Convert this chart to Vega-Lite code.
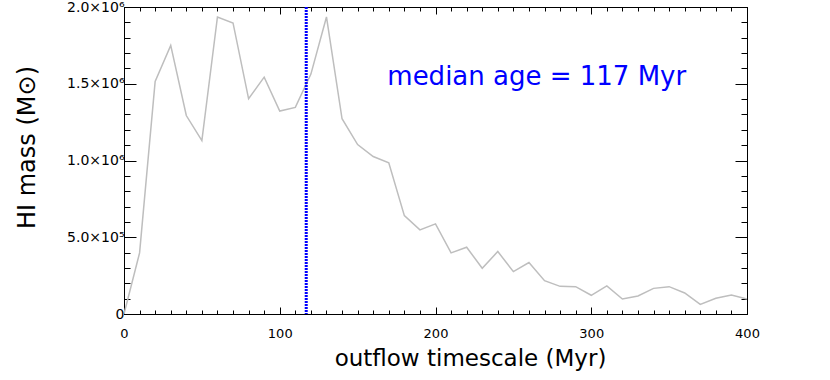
{
  "$schema": "https://vega.github.io/schema/vega-lite/v6.json",
  "autosize": "none",
  "width": 623,
  "height": 307,
  "padding": {"left": 124, "top": 7, "right": 83, "bottom": 66},
  "background": "white",
  "config": {
    "view": {"stroke": "black", "strokeWidth": 1},
    "font": "DejaVu Sans",
    "axis": {
      "domainColor": "black",
      "tickColor": "black",
      "labelColor": "black",
      "titleColor": "black",
      "grid": false,
      "labelFont": "DejaVu Sans",
      "titleFont": "DejaVu Sans",
      "titleFontWeight": "normal",
      "labelFontSize": 14,
      "labelOverlap": false
    }
  },
  "datasets": {
    "series": [
      {"t": 0, "mass": 0},
      {"t": 10, "mass": 398000},
      {"t": 20, "mass": 1515000},
      {"t": 30, "mass": 1750000},
      {"t": 40, "mass": 1293000},
      {"t": 50, "mass": 1130000},
      {"t": 60, "mass": 1935000},
      {"t": 70, "mass": 1896000},
      {"t": 80, "mass": 1402000},
      {"t": 90, "mass": 1543000},
      {"t": 100, "mass": 1322000},
      {"t": 110, "mass": 1346000},
      {"t": 120, "mass": 1563000},
      {"t": 130, "mass": 1935000},
      {"t": 140, "mass": 1272000},
      {"t": 150, "mass": 1104000},
      {"t": 160, "mass": 1026000},
      {"t": 170, "mass": 985000},
      {"t": 180, "mass": 641000},
      {"t": 190, "mass": 548000},
      {"t": 200, "mass": 587000},
      {"t": 210, "mass": 398000},
      {"t": 220, "mass": 435000},
      {"t": 230, "mass": 298000},
      {"t": 240, "mass": 407000},
      {"t": 250, "mass": 276000},
      {"t": 260, "mass": 335000},
      {"t": 270, "mass": 217000},
      {"t": 280, "mass": 180000},
      {"t": 290, "mass": 178000},
      {"t": 300, "mass": 122000},
      {"t": 310, "mass": 183000},
      {"t": 320, "mass": 98000},
      {"t": 330, "mass": 117000},
      {"t": 340, "mass": 167000},
      {"t": 350, "mass": 178000},
      {"t": 360, "mass": 137000},
      {"t": 370, "mass": 63000},
      {"t": 380, "mass": 102000},
      {"t": 390, "mass": 124000},
      {"t": 400, "mass": 98000}
    ],
    "annotation": [
      {"median": 117, "label": "median age = 117 Myr"}
    ]
  },
  "resolve": {"axis": {"x": "independent", "y": "independent"}},
  "layer": [
    {
      "data": {"name": "series"},
      "mark": {"type": "line", "color": "#bebebe", "strokeWidth": 1.5, "clip": true},
      "encoding": {
        "x": {
          "field": "t", "type": "quantitative",
          "scale": {"domain": [0, 400], "nice": false, "zero": false},
          "axis": {
            "orient": "bottom",
            "title": "outflow timescale (Myr)",
            "titleFontSize": 23,
            "titleX": 346,
            "titlePadding": 4,
            "values": [0,10,20,30,40,50,60,70,80,90,100,110,120,130,140,150,160,170,180,190,200,210,220,230,240,250,260,270,280,290,300,310,320,330,340,350,360,370,380,390,400],
            "labelExpr": "datum.value % 100 === 0 ? datum.label : ''",
            "labelPadding": 20,
            "labelFontSize": 13,
            "labelFlush": false,
            "tickSize": {"condition": {"test": "datum.value % 100 === 0", "value": -7}, "value": -4},
            "domain": true
          }
        },
        "y": {
          "field": "mass", "type": "quantitative",
          "scale": {"domain": [0, 2000000], "nice": false, "zero": false},
          "axis": {
            "orient": "left",
            "title": "HI mass (M⊙)",
            "titleFontSize": 24,
            "titleX": -85,
            "titleY": 140,
            "values": [0,100000,200000,300000,400000,500000,600000,700000,800000,900000,1000000,1100000,1200000,1300000,1400000,1500000,1600000,1700000,1800000,1900000,2000000],
            "labelExpr": "datum.value === 0 ? '0' : datum.value === 500000 ? '5.0×10⁵' : datum.value === 1000000 ? '1.0×10⁶' : datum.value === 1500000 ? '1.5×10⁶' : datum.value === 2000000 ? '2.0×10⁶' : ''",
            "labelPadding": 12,
            "labelFontSize": 14,
            "labelFlush": false,
            "tickSize": {"condition": {"test": "datum.value % 500000 === 0", "value": -12}, "value": -6}
          }
        }
      }
    },
    {
      "data": {"name": "annotation"},
      "mark": {"type": "rule", "color": "#0000ff", "strokeWidth": 3, "strokeDash": [2, 1]},
      "encoding": {
        "x": {"field": "median", "type": "quantitative", "axis": null}
      }
    },
    {
      "data": {"name": "annotation"},
      "mark": {"type": "text", "color": "#0000ff", "fontSize": 26, "align": "center", "baseline": "alphabetic", "font": "DejaVu Sans"},
      "encoding": {
        "text": {"field": "label"},
        "x": {
          "datum": 265, "type": "quantitative",
          "axis": {
            "orient": "top", "title": null, "labels": false,
            "values": [0,10,20,30,40,50,60,70,80,90,100,110,120,130,140,150,160,170,180,190,200,210,220,230,240,250,260,270,280,290,300,310,320,330,340,350,360,370,380,390,400],
            "tickSize": {"condition": {"test": "datum.value % 100 === 0", "value": -7}, "value": -4}
          }
        },
        "y": {
          "datum": 1492000, "type": "quantitative",
          "axis": {
            "orient": "right", "title": null, "labels": false,
            "values": [0,100000,200000,300000,400000,500000,600000,700000,800000,900000,1000000,1100000,1200000,1300000,1400000,1500000,1600000,1700000,1800000,1900000,2000000],
            "tickSize": {"condition": {"test": "datum.value % 500000 === 0", "value": -12}, "value": -6}
          }
        }
      }
    }
  ]
}
